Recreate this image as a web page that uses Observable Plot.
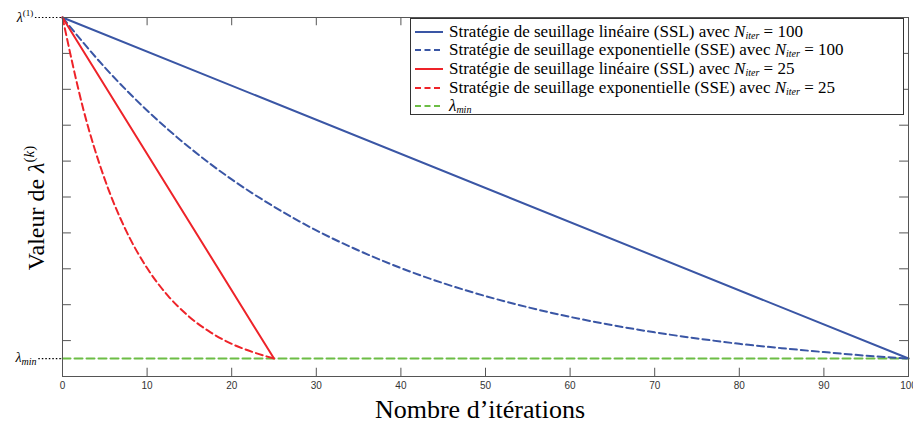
<!DOCTYPE html>
<html><head><meta charset="utf-8">
<script src="https://cdn.jsdelivr.net/npm/d3@7"></script>
<script src="https://cdn.jsdelivr.net/npm/@observablehq/plot@0.6"></script>
<style>body{margin:0;background:#fff} #chart{width:913px;height:423px}</style>
</head><body><div id="chart"></div>
<script>
// ---- data ----
const iter100 = [0,5,10,15,20,25,30,35,40,45,50,55,60,65,70,75,80,85,90,95,100];
const sse100  = [10,8.61,7.41,6.38,5.49,4.73,4.07,3.51,3.02,2.60,2.24,1.93,1.66,1.43,1.23,1.06,0.91,0.79,0.68,0.58,0.5];
const sslIter100 = [0,100];
const ssl100  = [10,0.5];
const iter25  = [0,2.5,5,7.5,10,12.5,15,17.5,20,22.5,25];
const sse25   = [10,7.41,5.49,4.07,3.02,2.24,1.66,1.23,0.91,0.68,0.5];
const sslIter25 = [0,25];
const ssl25   = [10,0.5];
const minIter = [0,100];
const lambdaMin = 0.5;
const lambdaOne = 10;
const xTicks = [0,10,20,30,40,50,60,70,80,90,100];
const yTicks = [0,1,2,3,4,5,6,7,8,9,10];

const seriesLabels = [
  {text:"Stratégie de seuillage linéaire (SSL) avec ", n:"100"},
  {text:"Stratégie de seuillage exponentielle (SSE) avec ", n:"100"},
  {text:"Stratégie de seuillage linéaire (SSL) avec ", n:"25"},
  {text:"Stratégie de seuillage exponentielle (SSE) avec ", n:"25"},
  {text:null, n:null}
];
const colors = {blue:"#3a56a5", red:"#ee2329", green:"#6cbd45"};
const legendStyles = [
  {stroke:colors.blue, dash:null},
  {stroke:colors.blue, dash:"6,3.5"},
  {stroke:colors.red, dash:null},
  {stroke:colors.red, dash:"6,3.5"},
  {stroke:colors.green, dash:"6,3.5"}
];

const toRows = (xs, ys) => xs.map((x,i)=>({x, y:ys[i]}));
const dash = "7,4";

const plot = Plot.plot({
  width: 913, height: 423,
  marginLeft: 62, marginRight: 5, marginTop: 17, marginBottom: 47,
  x: {domain:[0,100], axis:null},
  y: {domain:[0,10], axis:null},
  style: {background:"#fff"},
  marks: [
    Plot.ruleX(xTicks, {y1:0, y2:0.23, stroke:"#555", strokeWidth:1}),
    Plot.ruleX(xTicks, {y1:10, y2:9.77, stroke:"#555", strokeWidth:1}),
    Plot.ruleY(yTicks, {x1:0, x2:1.05, stroke:"#555", strokeWidth:1}),
    Plot.ruleY(yTicks, {x1:100, x2:98.95, stroke:"#555", strokeWidth:1}),
    Plot.axisX(xTicks, {tickSize:0, tickPadding:5, fontSize:10, fontFamily:"Liberation Sans, Arial, sans-serif", fill:"#333", label:null}),
    Plot.ruleY([lambdaOne], {x1:-3.2, x2:0, stroke:"#000", strokeDasharray:"1.5,2", strokeWidth:1.2}),
    Plot.ruleY([lambdaMin], {x1:-2.8, x2:0, stroke:"#000", strokeDasharray:"1.5,2", strokeWidth:1.2}),
    Plot.line(toRows(minIter, [lambdaMin, lambdaMin]), {x:"x", y:"y", stroke:colors.green, strokeWidth:2, strokeDasharray:"8,4"}),
    Plot.line(toRows(sslIter100, ssl100), {x:"x", y:"y", stroke:colors.blue, strokeWidth:2}),
    Plot.line(toRows(iter100, sse100), {x:"x", y:"y", stroke:colors.blue, strokeWidth:2, strokeDasharray:dash, curve:"monotone-x"}),
    Plot.line(toRows(sslIter25, ssl25), {x:"x", y:"y", stroke:colors.red, strokeWidth:2}),
    Plot.line(toRows(iter25, sse25), {x:"x", y:"y", stroke:colors.red, strokeWidth:2, strokeDasharray:dash, curve:"monotone-x"}),
    Plot.frame({stroke:"#555", strokeWidth:1})
  ]
});
document.getElementById("chart").appendChild(plot);

const svg = d3.select(plot);
const sx = plot.scale("x"), sy = plot.scale("y");
const serif = "'Liberation Serif', 'DejaVu Serif', serif";

const l1 = svg.append("text").attr("x", sx.apply(-3.4)).attr("y", sy.apply(lambdaOne)+5)
  .attr("text-anchor","end").attr("font-family", serif).attr("font-size", 14).attr("fill","#000");
l1.append("tspan").attr("font-style","italic").text("λ");
l1.append("tspan").attr("font-size",9).attr("dy",-6).text("(1)");

const lm = svg.append("text").attr("x", sx.apply(-3.0)).attr("y", sy.apply(lambdaMin)+4)
  .attr("text-anchor","end").attr("font-family", serif).attr("font-size", 14).attr("fill","#000");
lm.append("tspan").attr("font-style","italic").text("λ");
lm.append("tspan").attr("font-size",10).attr("font-style","italic").attr("dy",3).text("min");

svg.append("text").attr("x", 480).attr("y", 418).attr("text-anchor","middle")
  .attr("font-family", serif).attr("font-size", 26).attr("fill","#000").text("Nombre d’itérations");
const yl = svg.append("text").attr("transform","translate(44,208) rotate(-90)").attr("text-anchor","middle")
  .attr("font-family", serif).attr("font-size", 24).attr("fill","#000");
yl.append("tspan").text("Valeur de ");
yl.append("tspan").attr("font-style","italic").text("λ");
yl.append("tspan").attr("font-size",15).attr("dy",-10).text("(");
yl.append("tspan").attr("font-size",15).attr("font-style","italic").text("k");
yl.append("tspan").attr("font-size",15).text(")");

const lg = svg.append("g");
lg.append("rect").attr("x",410.5).attr("y",18.5).attr("width",493).attr("height",96)
  .attr("fill","#fff").attr("stroke","#333").attr("stroke-width",1);
const rowY = [32,50,69,88,106];
seriesLabels.forEach((s,i)=>{
  const y = rowY[i];
  lg.append("line").attr("x1",415).attr("x2",443).attr("y1",y).attr("y2",y)
    .attr("stroke",legendStyles[i].stroke).attr("stroke-width",2)
    .attr("stroke-dasharray",legendStyles[i].dash);
  const t = lg.append("text").attr("x",449).attr("y",y+5).attr("font-family",serif)
    .attr("text-anchor","start").attr("font-size",17).attr("fill","#000");
  if (s.text) {
    t.append("tspan").text(s.text);
    t.append("tspan").attr("font-style","italic").text("N");
    t.append("tspan").attr("font-style","italic").attr("font-size",10).attr("dy",2).text("iter");
    t.append("tspan").attr("dy",-2).text(" = " + s.n);
  } else {
    t.append("tspan").attr("font-style","italic").text("λ");
    t.append("tspan").attr("font-style","italic").attr("font-size",10).attr("dy",2).text("min");
  }
});
</script>
</body></html>
